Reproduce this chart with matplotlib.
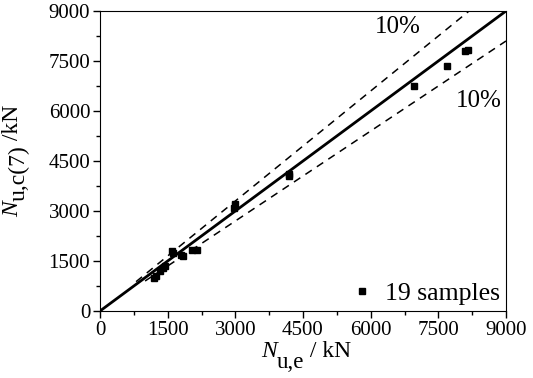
import matplotlib
matplotlib.use("Agg")
import matplotlib.pyplot as plt
from matplotlib.transforms import IdentityTransform
import numpy as np

# measured vs calculated capacity (kN)
n_exp = [1200, 1250, 1330, 1400, 1450, 1600, 1620, 1800, 1850, 2050,
         2150, 2980, 3000, 4180, 4200, 6950, 7700, 8100, 8150]
n_calc = [980, 1050, 1200, 1300, 1350, 1800, 1750, 1680, 1650, 1840,
          1830, 3100, 3220, 4060, 4100, 6750, 7360, 7800, 7820]
ticks = [0, 1500, 3000, 4500, 6000, 7500, 9000]

plt.rcParams['font.family'] = ['Liberation Serif', 'DejaVu Serif']

W, H = 533, 378
fig = plt.figure(figsize=(W / 100, H / 100), dpi=100)
ax = fig.add_axes([100 / W, 1 - 311 / H, 406 / W, 300 / H])

lim = 9000
ax.plot([0, lim], [0, lim], color='black', lw=2)
xu = np.array([800, lim / 1.1])
ax.plot(xu, 1.1 * xu, color='black', lw=1.1, ls=(0, (5, 4)))
xl = np.array([1000, lim])
ax.plot(xl, 0.9 * xl, color='black', lw=1.1, ls=(0, (5, 4)))

ax.plot(n_exp, n_calc, 's', color='black', ms=4.5, ls='none', label='19 samples')

ax.text(6600, 8520, '10%', fontsize=18, ha='center', va='center')
ax.text(8400, 6300, '10%', fontsize=18, ha='center', va='center')

ax.legend(loc='lower right', bbox_to_anchor=(1, 0), frameon=False, fontsize=18.5,
          handlelength=0.9, handletextpad=0.42, borderaxespad=0.0,
          borderpad=0.25, markerscale=0.85)

ax.set_xlim(0, lim)
ax.set_ylim(0, lim)
ax.set_xticks(ticks)
ax.set_yticks(ticks)
ax.set_xticks(np.arange(750, lim, 1500), minor=True)
ax.set_yticks(np.arange(750, lim, 1500), minor=True)
ax.tick_params(which='major', direction='out', length=5, width=1, labelsize=15, pad=2)
ax.tick_params(which='minor', direction='out', length=3, width=1)
ax.tick_params(top=False, right=False)


def rich_label(x, y, pieces, vertical=False):
    """Write text pieces (text, size, italic, drop in px) one after another,
    starting at pixel (x, y) measured from the top-left corner."""
    renderer = fig.canvas.get_renderer()
    cx, cy = x, H - y
    for s, size, italic, drop in pieces:
        kw = dict(fontsize=size, style='italic' if italic else 'normal',
                  transform=IdentityTransform(), ha='left', va='baseline')
        if vertical:
            t = fig.text(cx + drop, cy, s, rotation=90, rotation_mode='anchor', **kw)
            cy += t.get_window_extent(renderer).height
        else:
            t = fig.text(cx, cy - drop, s, **kw)
            cx += t.get_window_extent(renderer).width


rich_label(261, 357, [('N', 17, True, 0), ('u,e', 16.5, False, 11),
                      (' / kN', 17, False, 0)])
rich_label(18, 217, [('N', 17, True, 0), ('u,c(7)', 17, False, 7),
                     (' /kN', 17, False, 0)], vertical=True)

fig.savefig('out.png', dpi=100)
